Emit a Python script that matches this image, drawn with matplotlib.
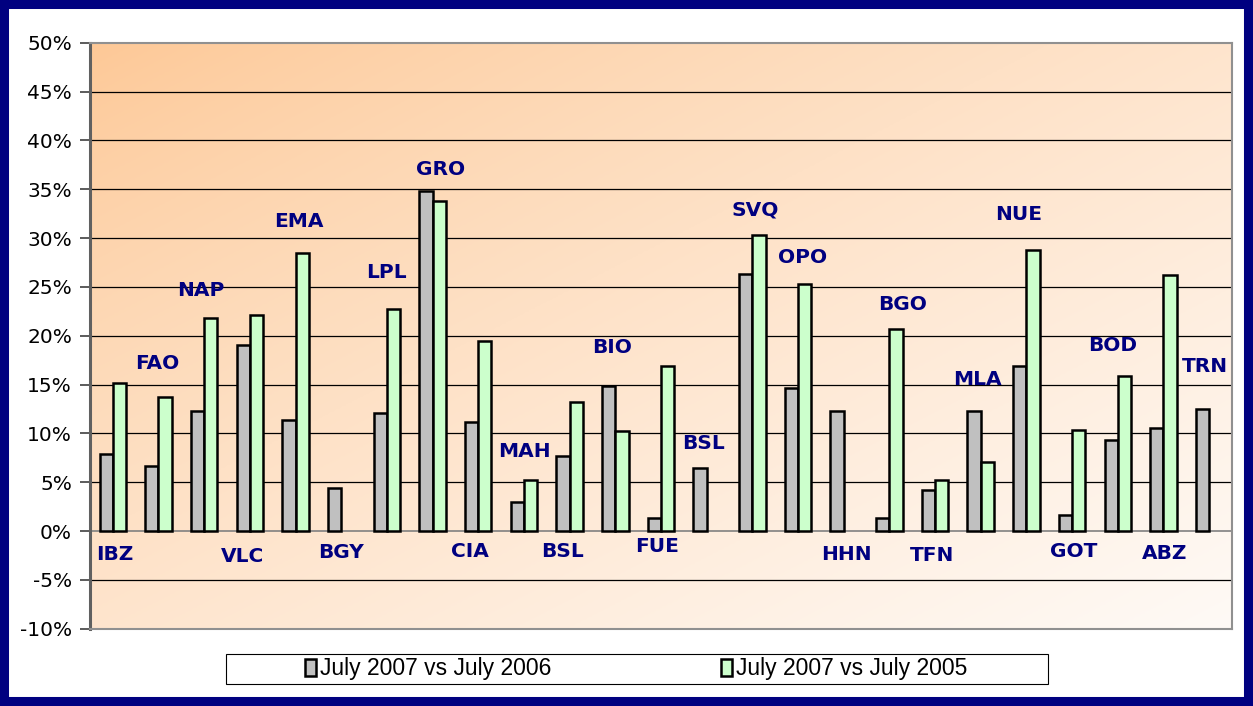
import matplotlib.pyplot as plt
import numpy as np
from matplotlib.patches import Rectangle

airports = ['IBZ', 'FAO', 'NAP', 'VLC', 'EMA', 'BGY', 'LPL', 'GRO', 'CIA', 'MAH',
            'BSL', 'BIO', 'FUE', 'BSL', 'SVQ', 'OPO', 'HHN', 'BGO', 'TFN', 'MLA',
            'NUE', 'GOT', 'BOD', 'ABZ', 'TRN']

# July 2007 vs July 2006 (%)
vs_2006 = [7.9, 6.7, 12.3, 19.0, 11.4, 4.4, 12.1, 34.8, 11.2, 3.0,
           7.7, 14.9, 1.3, 6.5, 26.3, 14.6, 12.3, 1.3, 4.2, 12.3,
           16.9, 1.6, 9.3, 10.6, 12.5]
# July 2007 vs July 2005 (%), None where no bar
vs_2005 = [15.2, 13.7, 21.8, 22.1, 28.5, None, 22.7, 33.8, 19.5, 5.2,
           13.2, 10.2, 16.9, None, 30.3, 25.3, None, 20.7, 5.2, 7.1,
           28.8, 10.3, 15.9, 26.2, None]

# label placement: x offset from the category, y in %
lab_dx = [0.05, -0.03, -0.07, -0.15, 0.08, -0.01, -0.02, 0.18, -0.18, 0.02,
          -0.15, -0.07, -0.09, -0.06, 0.06, 0.09, 0.07, 0.30, -0.07, -0.08,
          -0.18, 0.04, -0.11, 0.03, -0.09]
lab_y = [-2.4, 17.2, 24.6, -2.6, 31.7, -2.2, 26.5, 37.0, -2.1, 8.1,
         -2.1, 18.8, -1.6, 9.0, 32.9, 28.0, -2.4, 23.2, -2.5, 15.5,
         32.4, -2.1, 19.0, -2.3, 16.8]

navy = '#000080'
fig = plt.figure(figsize=(12.53, 7.06), dpi=100)
ax = fig.add_axes([0.0718, 0.1095, 0.9114, 0.83])

n = len(airports)
x = np.arange(n)
w = 0.29

# diagonal gradient: orange top-left -> near white bottom-right
gx, gy = np.meshgrid(np.linspace(0, 1, 200), np.linspace(0, 1, 200))
t = np.clip((gx + gy) / 2.0, 0, 1) ** 0.8
c0 = np.array([253, 200, 150]) / 255.0
c1 = np.array([255, 250, 246]) / 255.0
img = c0[None, None, :] * (1 - t[..., None]) + c1[None, None, :] * t[..., None]
ax.imshow(img, extent=[0, 1, 0, 1], transform=ax.transAxes, aspect='auto',
          origin='upper', zorder=0)

for yv in range(-5, 50, 5):
    if yv == 0:
        continue
    ax.axhline(yv, color='black', lw=0.9, zorder=1)
ax.axhline(0, color='#808080', lw=1.2, zorder=1)

ax.bar(x - w / 2, vs_2006, width=w, color='#C0C0C0', edgecolor='black',
       linewidth=1.8, zorder=3, label='July 2007 vs July 2006')
g = np.array([np.nan if v is None else v for v in vs_2005], dtype=float)
ax.bar(x + w / 2, g, width=w, color='#CCFFCC', edgecolor='black',
       linewidth=1.8, zorder=3, label='July 2007 vs July 2005')

for i, name in enumerate(airports):
    ax.text(i + lab_dx[i], lab_y[i], name, ha='center', va='center',
            fontsize=14.5, fontweight='bold', color=navy, zorder=4)

ax.set_xlim(-0.5, n - 0.5)
ax.set_ylim(-10, 50)
ax.set_yticks(range(-10, 51, 5))
ax.set_yticklabels([f'{v}%' for v in range(-10, 51, 5)], fontsize=14.5)
ax.set_xticks([])
ax.tick_params(axis='y', length=7, width=1.2, color='#404040', pad=6)
for s in ax.spines.values():
    s.set_color('#909090')
    s.set_linewidth(1.5)
ax.spines['left'].set_color('#606060')
ax.spines['left'].set_linewidth(2.2)

# legend (frame drawn separately)
leg = fig.legend(loc='center', bbox_to_anchor=(636 / 1253, 1 - 669 / 706), ncol=2,
                 frameon=False, prop={'family': 'Liberation Sans', 'size': 16.5},
                 handlelength=0.5, handleheight=0.7, handletextpad=0.15,
                 columnspacing=7.4, borderpad=0.2, borderaxespad=0)
fig.patches.append(Rectangle((226 / 1253, 1 - 684 / 706), 822 / 1253, 30 / 706,
                             transform=fig.transFigure, fill=False,
                             edgecolor='black', linewidth=0.8, zorder=5))

fig.patches.append(Rectangle((0, 0), 1, 1, transform=fig.transFigure, fill=False,
                             edgecolor=navy, linewidth=13, zorder=10))

fig.savefig('out.png', dpi=100)
